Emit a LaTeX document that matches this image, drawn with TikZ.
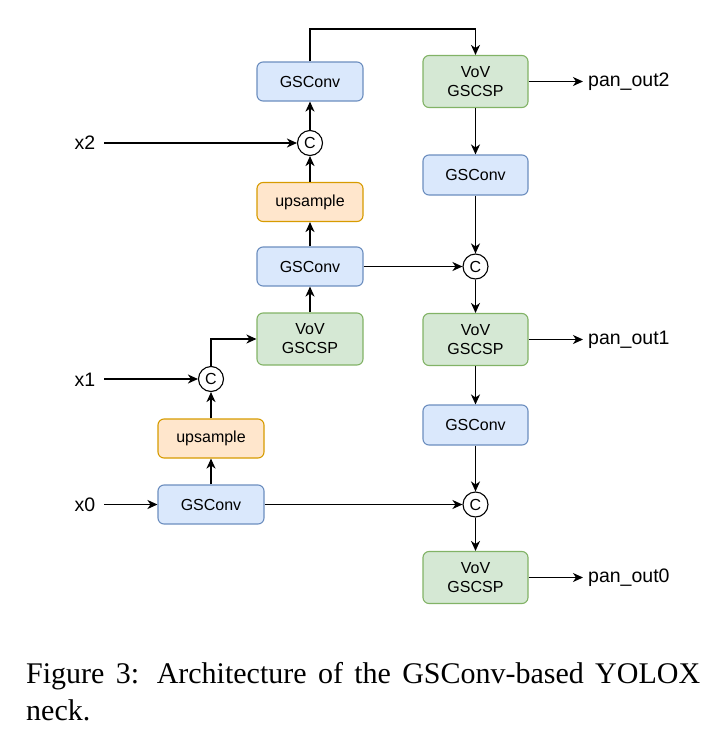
\documentclass[tikz,border=0pt]{standalone}
\usepackage{fontspec}
\setmainfont{Liberation Serif}
\newfontfamily\diagfont{Liberation Sans}
\usetikzlibrary{arrows.meta}
\definecolor{bfill}{HTML}{DAE8FC}\definecolor{bdraw}{HTML}{6C8EBF}
\definecolor{ofill}{HTML}{FFE6CC}\definecolor{odraw}{HTML}{D79B00}
\definecolor{gfill}{HTML}{D5E8D4}\definecolor{gdraw}{HTML}{82B366}
\tikzset{
  box/.style={rounded corners=6pt, line width=1.1pt, minimum width=106pt, minimum height=39pt, inner sep=0pt, align=center, font=\diagfont\fontsize{16}{19}\selectfont},
  bluebox/.style={box, fill=bfill, draw=bdraw},
  orangebox/.style={box, fill=ofill, draw=odraw},
  greenbox/.style={box, fill=gfill, draw=gdraw, minimum height=52pt},
  cat/.style={circle, draw, line width=1.1pt, fill=white, minimum size=25pt, inner sep=0pt, font=\diagfont\fontsize{16}{16}\selectfont},
  lab/.style={font=\diagfont\fontsize{19.5}{22}\selectfont, inner sep=5pt},
  arr/.style={line width=1.4pt, -{Stealth[length=10pt,width=9pt,inset=3pt]}}
}
\begin{document}
\begin{tikzpicture}[x=1pt,y=-1pt]
\useasboundingbox (0,0) rectangle (723,737);
% left column
\node[bluebox] (lg1) at (310,81.5) {GSConv};
\node[cat] (lc2) at (310,143) {C};
\node[orangebox] (lup2) at (310,202) {upsample};
\node[bluebox] (lg2) at (310,266.5) {GSConv};
\node[greenbox] (lv) at (310,339) {VoV\\GSCSP};
\node[cat] (lc1) at (211,379) {C};
\node[orangebox] (lup1) at (211,438.5) {upsample};
\node[bluebox] (lg0) at (211,504.5) {GSConv};
% inputs
\node[lab] (x2) at (85,143) {x2};
\node[lab] (x1) at (85,380) {x1};
\node[lab] (x0) at (85,505) {x0};
% right column
\node[greenbox, minimum width=105pt] (rv2) at (475.5,81.5) {VoV\\GSCSP};
\node[bluebox, minimum width=105pt, minimum height=40pt] (rg2) at (475.5,175) {GSConv};
\node[cat] (rc2) at (475.5,266.5) {C};
\node[greenbox, minimum width=105pt] (rv1) at (475.5,339.5) {VoV\\GSCSP};
\node[bluebox, minimum width=105pt, minimum height=40pt] (rg1) at (475.5,425) {GSConv};
\node[cat] (rc1) at (475.5,504.5) {C};
\node[greenbox, minimum width=105pt] (rv0) at (475.5,577.5) {VoV\\GSCSP};
% outputs
\node[lab, anchor=west] (p2) at (583,81.5) {pan\_out2};
\node[lab, anchor=west] (p1) at (583,339.5) {pan\_out1};
\node[lab, anchor=west] (p0) at (583,577.5) {pan\_out0};
% connectors
\draw[arr, shorten <=4pt] (x0.east |- lg0) -- (lg0);
\draw[arr] (lg0) -- (lup1);
\draw[arr] (lup1) -- (lc1);
\draw[arr, shorten <=4pt] (x1.east |- lc1) -- (lc1);
\draw[arr] (lc1) |- (lv.west);
\draw[arr] (lv) -- (lg2);
\draw[arr] (lg2) -- (lup2);
\draw[arr] (lup2) -- (lc2);
\draw[arr, shorten <=4pt] (x2.east |- lc2) -- (lc2);
\draw[arr] (lc2) -- (lg1);
\coordinate (top) at (310,29);
\draw[arr] (lg1.north) -- (top) -| (rv2.north);
\draw[arr] (rv2) -- (rg2);
\draw[arr] (rg2) -- (rc2);
\draw[arr] (lg2) -- (rc2);
\draw[arr] (rc2) -- (rv1);
\draw[arr] (rv1) -- (rg1);
\draw[arr] (rg1) -- (rc1);
\draw[arr] (lg0) -- (rc1);
\draw[arr] (rc1) -- (rv0);
\draw[arr] (rv2) -- (p2);
\draw[arr] (rv1) -- (p1);
\draw[arr] (rv0) -- (p0);
% caption
\node[anchor=base west, inner sep=0pt, font=\fontsize{30}{36}\selectfont] (cap1) at (26,683) {\makebox[674pt][s]{Figure 3: Architecture of the GSConv-based YOLOX}};
\node[anchor=base west, inner sep=0pt, font=\fontsize{30}{36}\selectfont] (cap2) at (26,720) {neck.};
\end{tikzpicture}
\end{document}
